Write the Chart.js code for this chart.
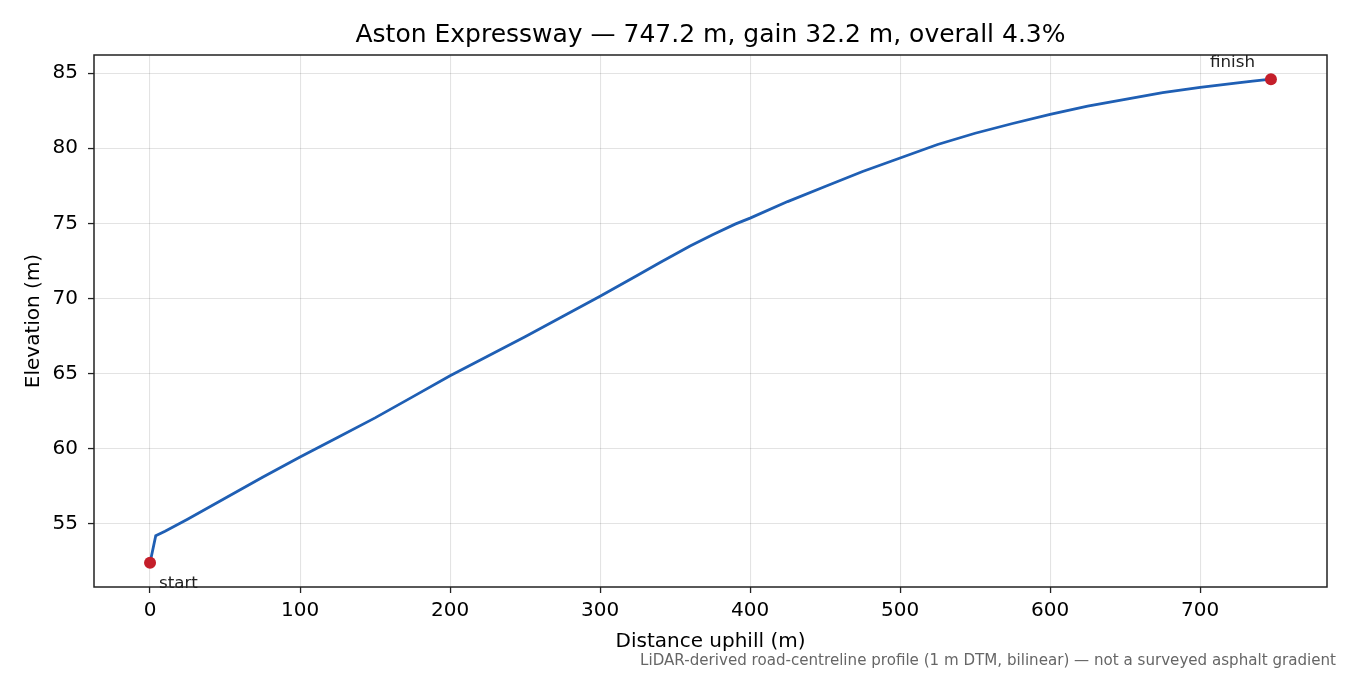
<!DOCTYPE html>
<html>
<head>
<meta charset="utf-8">
<title>Aston Expressway elevation profile</title>
<script src="https://cdn.jsdelivr.net/npm/chart.js@4.4.1/dist/chart.umd.min.js"></script>
<style>
  html, body { margin: 0; padding: 0; background: #fff; }
  canvas { display: block; }
</style>
</head>
<body>
<canvas id="profile" width="1350" height="675"></canvas>
<script>
// distance along the road (m) and elevation (m)
const distance = [0, 3.8, 10, 25, 50, 75, 100, 125, 150, 175, 200, 225, 250, 275, 300,
  325, 340, 350, 360, 375, 390, 400, 425, 450, 475, 500, 525, 550, 575, 600, 625, 650,
  675, 700, 725, 735, 747.2];
const elevation = [52.4, 54.2, 54.5, 55.3, 56.7, 58.1, 59.45, 60.75, 62.05, 63.45, 64.85,
  66.15, 67.45, 68.8, 70.15, 71.55, 72.4, 72.95, 73.5, 74.25, 74.95, 75.35, 76.45, 77.45,
  78.45, 79.35, 80.25, 81.0, 81.65, 82.25, 82.8, 83.25, 83.7, 84.05, 84.35, 84.47, 84.6];

const xTicks = [0, 100, 200, 300, 400, 500, 600, 700];
const yTicks = [55, 60, 65, 70, 75, 80, 85];

const titleText = "Aston Expressway \u2014 747.2 m, gain 32.2 m, overall 4.3%";
const footText = "LiDAR-derived road-centreline profile (1 m DTM, bilinear) \u2014 not a surveyed asphalt gradient";

const FONT = "'DejaVu Sans', sans-serif";
const LINE = "#1f5fb4";
const MARK = "#c41e2a";

const profile = distance.map((d, i) => ({ x: d, y: elevation[i] }));
const ends = [profile[0], profile[profile.length - 1]];

// matplotlib style 5% margins
const xPad = (distance[distance.length - 1] - distance[0]) * 0.05;
const yMin = Math.min(...elevation), yMax = Math.max(...elevation);
const yPad = (yMax - yMin) * 0.05;

const decorations = {
  id: "decorations",
  afterDraw(chart) {
    const { ctx, chartArea: a, scales } = chart;
    ctx.save();
    // frame
    ctx.strokeStyle = "#222";
    ctx.lineWidth = 1.5;
    ctx.strokeRect(a.left, a.top, a.right - a.left, a.bottom - a.top);

    ctx.fillStyle = "#000";
    ctx.font = "25px " + FONT;
    ctx.textAlign = "center";
    ctx.textBaseline = "alphabetic";
    ctx.fillText(titleText, (a.left + a.right) / 2, 42);

    // start / finish labels
    ctx.font = "16.7px " + FONT;
    ctx.fillStyle = "#222";
    const s = ends[0], f = ends[1];
    ctx.textAlign = "left";
    ctx.fillText("start", scales.x.getPixelForValue(s.x) + 9, scales.y.getPixelForValue(s.y) + 25);
    ctx.textAlign = "right";
    ctx.fillText("finish", scales.x.getPixelForValue(f.x) - 16, scales.y.getPixelForValue(f.y) - 12);

    ctx.font = "15.1px " + FONT;
    ctx.fillStyle = "#666";
    ctx.textAlign = "right";
    ctx.fillText(footText, 1336, 665);
    ctx.restore();
  }
};

new Chart(document.getElementById("profile"), {
  type: "scatter",
  data: {
    datasets: [
      {
        data: ends,
        showLine: false,
        pointRadius: 6,
        pointHoverRadius: 6,
        pointBackgroundColor: MARK,
        pointBorderWidth: 0,
        order: 0
      },
      {
        data: profile,
        showLine: true,
        borderColor: LINE,
        borderWidth: 2.8,
        pointRadius: 0,
        tension: 0,
        order: 1
      }
    ]
  },
  options: {
    responsive: false,
    devicePixelRatio: 1,
    animation: false,
    events: [],
    layout: { padding: { top: 55, right: 23, left: 0, bottom: 0 } },
    plugins: {
      legend: { display: false },
      title: { display: false },
      tooltip: { enabled: false }
    },
    scales: {
      x: {
        type: "linear",
        min: distance[0] - xPad,
        max: distance[distance.length - 1] + xPad,
        afterBuildTicks: s => { s.ticks = xTicks.map(v => ({ value: v })); },
        afterFit: s => { s.height = 88; },
        grid: { color: "rgba(0,0,0,0.11)", lineWidth: 1.1, tickColor: "#222", tickLength: 6, tickWidth: 1.3 },
        border: { display: false },
        ticks: { color: "#000", font: { family: FONT, size: 20 }, padding: 6, maxRotation: 0 },
        title: {
          display: true, text: "Distance uphill (m)", color: "#000",
          font: { family: FONT, size: 20 }, padding: { top: 0, bottom: 21 }
        }
      },
      y: {
        type: "linear",
        min: yMin - yPad,
        max: yMax + yPad,
        afterBuildTicks: s => { s.ticks = yTicks.map(v => ({ value: v })); },
        afterFit: s => { s.width = 94; },
        grid: { color: "rgba(0,0,0,0.11)", lineWidth: 1.1, tickColor: "#222", tickLength: 6, tickWidth: 1.3 },
        border: { display: false },
        ticks: { color: "#000", font: { family: FONT, size: 20 }, padding: 10 },
        title: {
          display: true, text: "Elevation (m)", color: "#000",
          font: { family: FONT, size: 20 }, padding: { top: 22, bottom: 0 }
        }
      }
    }
  },
  plugins: [decorations]
});
</script>
</body>
</html>
